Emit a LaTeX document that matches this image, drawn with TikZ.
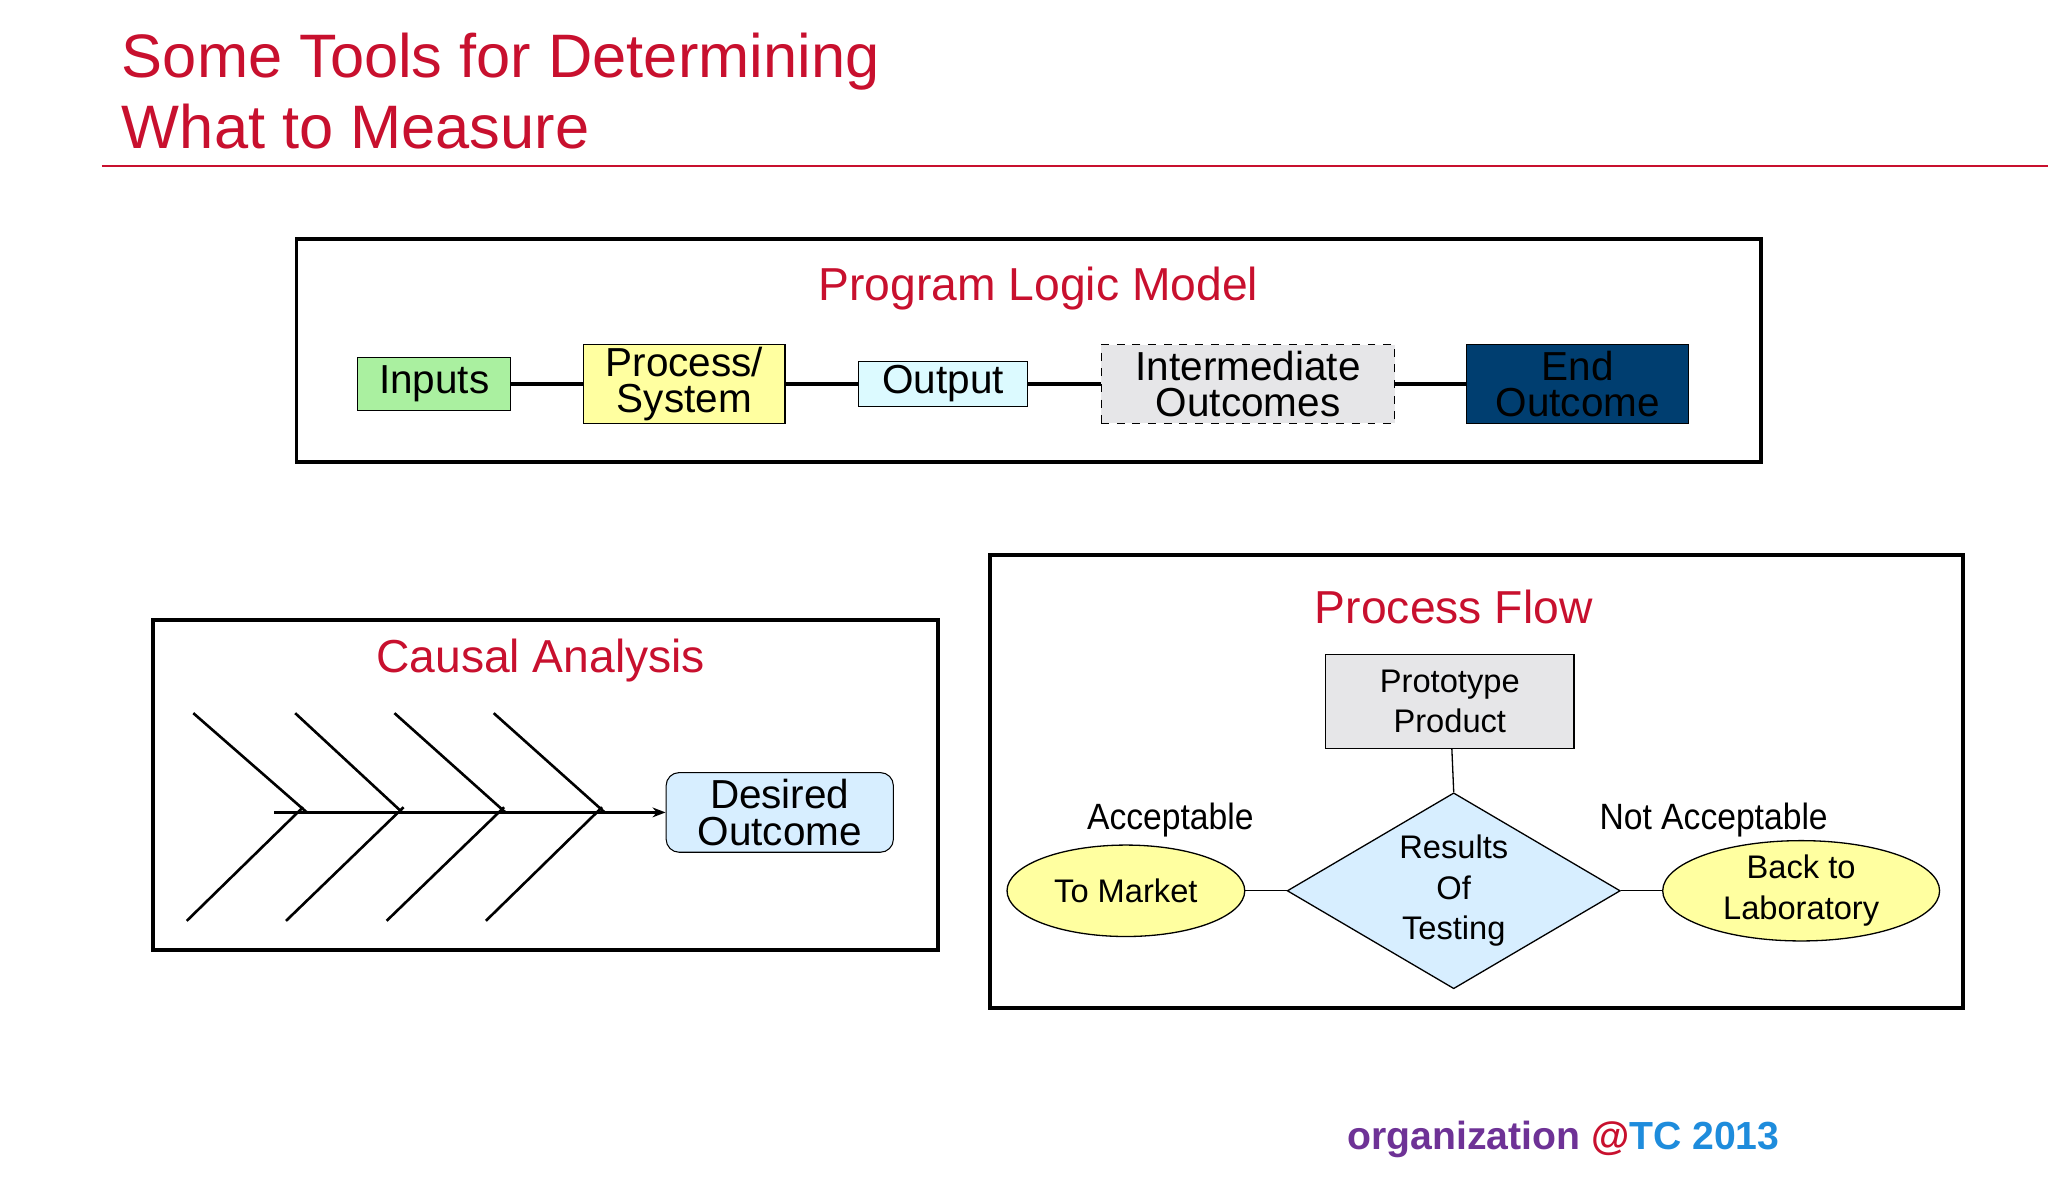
\documentclass[tikz,border=0pt]{standalone}
\usepackage{fontspec}
\setmainfont{Liberation Sans}
\usetikzlibrary{shapes.geometric,arrows.meta}
\definecolor{tred}{RGB}{200,16,46}
\definecolor{grn}{RGB}{170,240,160}
\definecolor{ylw}{RGB}{255,255,160}
\definecolor{cyn}{RGB}{220,250,255}
\definecolor{gry}{RGB}{230,230,232}
\definecolor{navy}{RGB}{0,62,112}
\definecolor{lblue}{RGB}{215,238,255}
\definecolor{purp}{RGB}{110,50,150}
\definecolor{tblue}{RGB}{30,140,220}
\begin{document}
\begin{tikzpicture}[x=0.5pt,y=-0.5pt,
  frame/.style={draw,line width=1.5pt},
  ttl/.style={text=tred,font=\fontsize{17.7}{21}\selectfont},
  box/.style={draw,inner sep=0pt,align=center,font=\fontsize{15.5}{14}\selectfont},
  small/.style={align=center,font=\fontsize{12.5}{15.5}\selectfont},
  conn/.style={line width=1.3pt},
  thin/.style={line width=0.5pt}]
\useasboundingbox (0,0) rectangle (1568,906);
\node[anchor=base west,inner sep=0pt,text=tred,align=left,font=\fontsize{23.5}{27.5}\selectfont] (title) at (93,114) {Some Tools for Determining\\What to Measure};
\draw[tred,line width=1pt] (78,127) -- (1568,127);
% box 1
\draw[frame] (227,183) rectangle (1348,354);
\node[ttl] (plm) at (795,221) {Program Logic Model};
\node[box,fill=grn,minimum width=58.5pt,minimum height=20pt] (in) at (332.5,294) {Inputs};
\node[box,fill=ylw,minimum width=77pt,minimum height=30pt] (ps) at (524,294) {Process/\\System};
\node[box,fill=cyn,minimum width=65pt,minimum height=17pt] (out) at (722,294) {Output};
\node[box,fill=gry,dashed,minimum width=112.5pt,minimum height=30pt] (im) at (955.5,294) {Intermediate\\Outcomes};
\node[box,fill=navy,minimum width=85pt,minimum height=30pt] (end) at (1208,294) {End\\Outcome};
\draw[conn] (in) -- (ps);
\draw[conn] (ps) -- (out);
\draw[conn] (out) -- (im);
\draw[conn] (im) -- (end);
% box 2
\draw[frame] (117,475) rectangle (718,727);
\node[ttl] (ca) at (414,506) {Causal Analysis};
\node[box,fill=lblue,rounded corners=5pt,minimum width=87pt,minimum height=30.5pt] (des) at (597,622) {Desired\\Outcome};
\coordinate (sp) at (210,622);
\draw[line width=1pt,-{Stealth[length=5pt]}] (sp) -- (des.west);
\foreach \a/\b in {148/235,226/308,302/387,378/463}{
  \draw[line width=1pt] (\a,546) -- (\b,622);}
\foreach \a/\b in {143/232,219/309,296/386,372/461}{
  \draw[line width=1pt] (\a,705) -- (\b,618);}
% box 3
\draw[frame] (758,425) rectangle (1503,772);
\node[ttl] (pf) at (1113,465) {Process Flow};
\node[draw,thin,fill=gry,small,minimum width=95pt,minimum height=36pt] (pp) at (1110,537) {Prototype\\Product};
\node[draw,thin,fill=lblue,diamond,aspect=1.7,small,minimum width=127.5pt,minimum height=75pt,inner sep=0pt] (dia) at (1113,682) {Results\\Of\\Testing};
\node[draw,thin,fill=ylw,ellipse,small,minimum width=91pt,minimum height=35pt,inner sep=0pt] (tm) at (862,682) {To Market};
\node[draw,thin,fill=ylw,ellipse,small,minimum width=106pt,minimum height=38pt,inner sep=0pt] (bl) at (1379,682) {Back to\\Laboratory};
\draw[thin] (pp) -- (dia.north);
\draw[thin] (tm) -- (dia.west);
\draw[thin] (dia.east) -- (bl);
\node[font=\fontsize{14}{16}\selectfont,xscale=0.92] (acc) at (896,628) {Acceptable};
\node[font=\fontsize{14}{16}\selectfont,xscale=0.92] (nacc) at (1312,628) {Not Acceptable};
\node[font=\bfseries\fontsize{15}{18}\selectfont] (foot) at (1197,872) {\textcolor{purp}{organization} \textcolor{tred}{@}\textcolor{tblue}{TC 2013}};
\end{tikzpicture}
\end{document}
